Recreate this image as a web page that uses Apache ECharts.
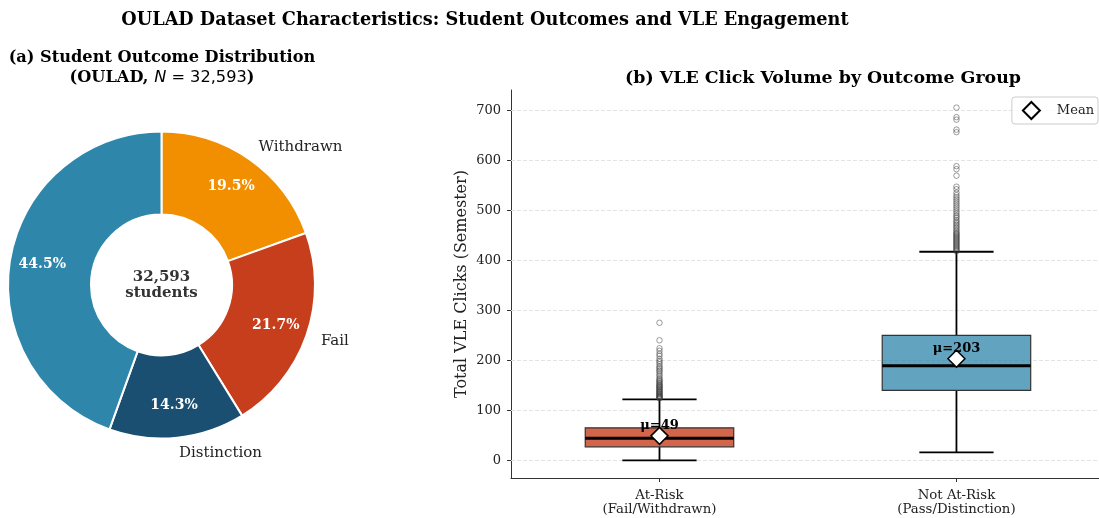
<!DOCTYPE html>
<html>
<head>
<meta charset="utf-8">
<title>OULAD Dataset Characteristics</title>
<script src="https://cdn.jsdelivr.net/npm/echarts@6/dist/echarts.min.js"></script>
<style>
  html, body { margin: 0; padding: 0; background: #fff; }
  #chart { width: 1099px; height: 518px; }
</style>
</head>
<body>
<div id="chart"></div>
<script>
// ---- Panel (a): outcome distribution ----
const outcomeNames = ['Withdrawn', 'Fail', 'Distinction', 'Pass'];
const outcomeShares = [19.5, 21.7, 14.3, 44.5];
const outcomeColors = ['#F18F01', '#C73E1D', '#1B4F72', '#2E86AB'];
const totalStudents = '32,593';

// ---- Panel (b): VLE clicks per outcome group ----
const groupLabels = ['At-Risk\n(Fail/Withdrawn)', 'Not At-Risk\n(Pass/Distinction)'];
const groupPositions = [0, 1];
// [lower whisker, Q1, median, Q3, upper whisker]
const boxStats = [
  [0, 27, 44, 65, 122],
  [16, 140, 189, 250, 417]
];
const groupMeans = [49, 203];
const boxFills = ['rgba(199,62,29,0.8)', 'rgba(46,134,171,0.75)'];
const atRiskOutliers = [
  275, 240, 224, 219, 213, 209, 203, 199, 196, 192, 188, 185, 182, 179, 176,
  172, 169, 165, 162, 160, 158, 156, 154, 152, 150, 149, 147, 146, 144, 143,
  141, 140, 138, 137, 136, 134, 133, 132, 130, 129, 128, 127, 126, 125, 124
];
const notAtRiskOutliers = [
  705, 686, 681, 661, 656, 588, 582, 569, 547, 542, 535, 530, 526, 522, 518,
  514, 510, 506, 502, 498, 494, 490, 487, 484, 480, 477, 474, 471, 468, 465,
  462, 459, 456, 454, 452, 450, 448, 446, 444, 442, 440, 438, 436, 434, 432,
  430, 428, 426, 424, 422, 420, 418
];
const yTicks = [0, 100, 200, 300, 400, 500, 600, 700];

const SERIF = 'DejaVu Serif';

function renderBox(params, api) {
  const i = api.value(0);
  const pts = [1, 2, 3, 4, 5].map(function (d) { return api.coord([i, api.value(d)]); });
  const unit = api.size([1, 0], [i, 0])[0];
  const half = unit * 0.25;
  const cap = unit * 0.125;
  const cx = pts[0][0];
  const lo = pts[0][1], q1 = pts[1][1], med = pts[2][1], q3 = pts[3][1], hi = pts[4][1];
  const w = { stroke: '#000', lineWidth: 1.8 };
  return {
    type: 'group',
    children: [
      { type: 'line', shape: { x1: cx, y1: q1, x2: cx, y2: lo }, style: w },
      { type: 'line', shape: { x1: cx, y1: q3, x2: cx, y2: hi }, style: w },
      { type: 'line', shape: { x1: cx - cap, y1: lo, x2: cx + cap, y2: lo }, style: w },
      { type: 'line', shape: { x1: cx - cap, y1: hi, x2: cx + cap, y2: hi }, style: w },
      { type: 'rect', shape: { x: cx - half, y: q3, width: 2 * half, height: q1 - q3 },
        style: { fill: boxFills[i], stroke: '#333', lineWidth: 1.2 } },
      { type: 'line', shape: { x1: cx - half, y1: med, x2: cx + half, y2: med },
        style: { stroke: '#000', lineWidth: 3 } }
    ]
  };
}

const chart = echarts.init(document.getElementById('chart'), null, { renderer: 'canvas' });

const option = {
  animation: false,
  backgroundColor: '#fff',
  textStyle: { fontFamily: SERIF },
  grid: { left: 511, top: 90, right: 0, height: 388 },
  xAxis: {
    type: 'value',
    min: -0.5,
    max: 1.48,
    axisLine: { onZero: false, lineStyle: { color: '#333', width: 1 } },
    axisTick: { show: true, length: 4, customValues: groupPositions, lineStyle: { color: '#333' } },
    axisLabel: {
      fontFamily: SERIF, fontSize: 13.3, color: '#222', lineHeight: 14, margin: 11,
      customValues: groupPositions,
      formatter: function (v) { return groupLabels[Math.round(v)]; }
    },
    splitLine: { show: false }
  },
  yAxis: {
    type: 'value',
    min: -35.25,
    max: 740.25,
    name: 'Total VLE Clicks (Semester)',
    nameLocation: 'middle',
    nameGap: 41,
    nameMoveOverlap: false,
    nameTextStyle: { fontFamily: SERIF, fontSize: 16, color: '#222' },
    axisLine: { show: true, onZero: false, lineStyle: { color: '#333', width: 1 } },
    axisTick: { show: true, length: 4, customValues: yTicks, lineStyle: { color: '#333' } },
    axisLabel: { fontFamily: SERIF, fontSize: 13, color: '#222', margin: 10, customValues: yTicks },
    splitLine: { show: false }
  },
  legend: {
    data: [{ name: 'Mean', icon: 'diamond' }],
    right: 1,
    top: 97,
    orient: 'vertical',
    itemWidth: 17,
    itemHeight: 17,
    padding: [4, 4, 4, 10],
    borderColor: '#ccc',
    borderWidth: 1,
    borderRadius: 3,
    backgroundColor: 'rgba(255,255,255,0.8)',
    textStyle: { fontFamily: SERIF, fontSize: 13, color: '#222', padding: [0, 0, 0, 12] }
  },
  series: [
    {
      type: 'pie',
      name: 'Outcomes',
      center: [161.5, 285],
      radius: [70.5, 153.5],
      startAngle: 90,
      clockwise: true,
      avoidLabelOverlap: false,
      silent: true,
      itemStyle: { borderColor: '#fff', borderWidth: 2 },
      label: {
        show: true,
        position: 'outside',
        formatter: '{b}',
        fontFamily: SERIF,
        fontSize: 15,
        color: '#222',
        distanceToLabelLine: 0
      },
      labelLine: { show: false, length: 15.4, length2: 0 },
      data: outcomeNames.map(function (n, i) {
        return {
          name: n,
          value: outcomeShares[i],
          itemStyle: { color: outcomeColors[i] },
          label: { show: n !== 'Pass' }
        };
      })
    },
    {
      // percentage labels placed across the ring
      type: 'pie',
      name: 'Shares',
      center: [161.5, 285],
      radius: [0, 236],
      startAngle: 90,
      clockwise: true,
      silent: true,
      z: 3,
      itemStyle: { color: 'rgba(0,0,0,0)', borderWidth: 0 },
      label: {
        show: true,
        position: 'inside',
        formatter: function (p) { return p.value.toFixed(1) + '%'; },
        fontFamily: SERIF,
        fontWeight: 'bold',
        fontSize: 14,
        color: '#fff'
      },
      labelLine: { show: false },
      data: outcomeNames.map(function (n, i) { return { name: n + ' share', value: outcomeShares[i] }; })
    },
    {
      type: 'custom',
      name: 'Clicks',
      z: 3,
      renderItem: renderBox,
      encode: { x: 0, y: [1, 2, 3, 4, 5] },
      data: boxStats.map(function (s, i) { return [groupPositions[i]].concat(s); }),
      markLine: {
        silent: true,
        z: 1,
        symbol: 'none',
        label: { show: false },
        lineStyle: { color: '#e3e3e3', width: 1, type: [4, 2] },
        data: yTicks.map(function (v) { return { yAxis: v }; })
      }
    },
    {
      type: 'scatter',
      name: 'Outliers',
      z: 4,
      symbol: 'circle',
      symbolSize: 5.5,
      silent: true,
      itemStyle: { opacity: 1, color: 'rgba(255,255,255,0)', borderColor: 'rgba(60,60,60,0.5)', borderWidth: 1 },
      data: atRiskOutliers.map(function (v) { return [groupPositions[0], v]; })
        .concat(notAtRiskOutliers.map(function (v) { return [groupPositions[1], v]; }))
    },
    {
      type: 'scatter',
      name: 'Mean',
      z: 5,
      symbol: 'diamond',
      symbolSize: 17,
      itemStyle: { opacity: 1, color: '#fff', borderColor: '#000', borderWidth: 1.5 },
      label: {
        show: true,
        position: 'top',
        distance: -6,
        formatter: function (p) { return '\u03bc=' + p.value[1]; },
        fontFamily: SERIF,
        fontWeight: 'bold',
        fontSize: 13,
        color: '#000'
      },
      data: groupMeans.map(function (m, i) { return [groupPositions[i], m]; })
    }
  ],
  graphic: [
    {
      type: 'text', x: 485, y: 20, z: 10,
      style: {
        text: 'OULAD Dataset Characteristics: Student Outcomes and VLE Engagement',
        fontFamily: SERIF, fontWeight: 'bold', fontSize: 17.7, fill: '#000',
        textAlign: 'center', textVerticalAlign: 'middle'
      }
    },
    {
      type: 'text', x: 162, y: 58, z: 10,
      style: {
        text: '(a) Student Outcome Distribution',
        fontFamily: SERIF, fontWeight: 'bold', fontSize: 16.2, fill: '#000',
        textAlign: 'center', textVerticalAlign: 'middle'
      }
    },
    {
      type: 'text', x: 162, y: 78, z: 10,
      style: {
        text: '{b|(OULAD, }{i|N}{m| = ' + totalStudents + '}{b|)}',
        textAlign: 'center', textVerticalAlign: 'middle',
        rich: {
          b: { fontFamily: SERIF, fontWeight: 'bold', fontSize: 16.2, fill: '#000' },
          i: { fontFamily: 'DejaVu Sans', fontStyle: 'italic', fontSize: 16.2, fill: '#000' },
          m: { fontFamily: 'DejaVu Sans', fontSize: 16.2, fill: '#000' }
        }
      }
    },
    {
      type: 'text', x: 823, y: 78, z: 10,
      style: {
        text: '(b) VLE Click Volume by Outcome Group',
        fontFamily: SERIF, fontWeight: 'bold', fontSize: 17.4, fill: '#000',
        textAlign: 'center', textVerticalAlign: 'middle'
      }
    },
    {
      type: 'text', x: 161.5, y: 285, z: 10,
      style: {
        text: totalStudents + '\nstudents',
        fontFamily: SERIF, fontWeight: 'bold', fontSize: 15, fill: '#333',
        lineHeight: 16,
        textAlign: 'center', textVerticalAlign: 'middle'
      }
    }
  ]
};

chart.setOption(option);
</script>
</body>
</html>
